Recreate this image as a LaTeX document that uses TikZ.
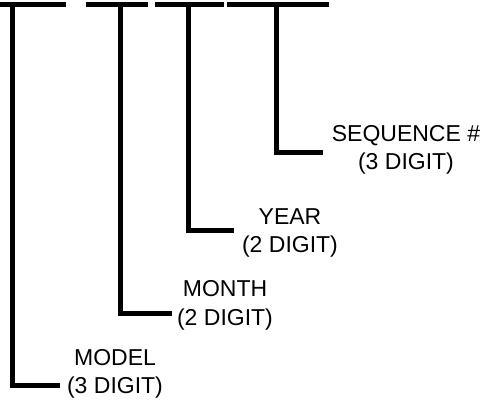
\documentclass[tikz,border=0pt]{standalone}
\usepackage{fontspec}
\setmainfont{Liberation Sans}
\begin{document}
\begin{tikzpicture}[x=1pt,y=-1pt,
  bar/.style={line width=4.5pt},
  lead/.style={line width=5pt,line join=miter},
  field/.style={align=center,inner sep=0pt,font=\fontsize{23}{28.5}\selectfont}]
\useasboundingbox (0,0) rectangle (485,400);
% top segment bars
\coordinate (b1l) at (0,4.6);   \coordinate (b1r) at (66,4.6);
\coordinate (b2l) at (86,4.6);  \coordinate (b2r) at (148,4.6);
\coordinate (b3l) at (155,4.6); \coordinate (b3r) at (224,4.6);
\coordinate (b4l) at (227,4.6); \coordinate (b4r) at (329,4.6);
\draw[bar] (b1l) -- (b1r);
\draw[bar] (b2l) -- (b2r);
\draw[bar] (b3l) -- (b3r);
\draw[bar] (b4l) -- (b4r);
% field labels
\node[field] (model) at (115,374) {MODEL\\(3 DIGIT)};
\node[field] (month) at (225,305.5) {MONTH\\(2 DIGIT)};
\node[field] (year)  at (290,233) {YEAR\\(2 DIGIT)};
\node[field] (seq)   at (406,150) {SEQUENCE \#\\(3 DIGIT)};
% lead line anchors
\coordinate (t1) at (12.5,4.6);  \coordinate (e1) at (60,385);
\coordinate (t2) at (120,4.6);   \coordinate (e2) at (172,313);
\coordinate (t3) at (188.5,4.6); \coordinate (e3) at (234,230);
\coordinate (t4) at (276.5,4.6); \coordinate (e4) at (323,152);
\draw[lead] (t1) |- (e1);
\draw[lead] (t2) |- (e2);
\draw[lead] (t3) |- (e3);
\draw[lead] (t4) |- (e4);
\end{tikzpicture}
\end{document}
